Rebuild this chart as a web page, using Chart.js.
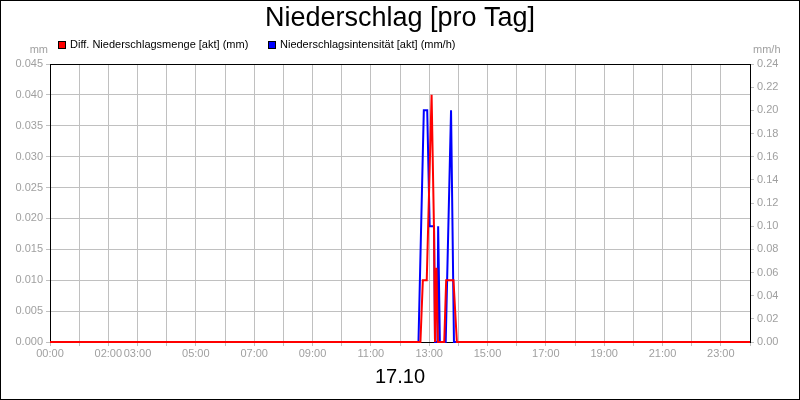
<!DOCTYPE html>
<html>
<head>
<meta charset="utf-8">
<title>Niederschlag [pro Tag]</title>
<script src="https://cdn.jsdelivr.net/npm/chart.js@4.4.0/dist/chart.umd.min.js"></script>
<style>
    html, body { margin: 0; padding: 0; background: #fff; }
    canvas { display: block; }
</style>
</head>
<body>
<canvas id="rainChart" width="800" height="400"></canvas>
<script>
// Colours used on the chart
const COLORS = {
    amount: '#ff0000',
    intensity: '#0000ff',
    grid: '#c0c0c0',
    tickText: '#a0a0a0',
    frame: '#000000'
};

// Tick labels for each hour (0..24), empty where the original skips one
const hourLabels = [
    '00:00', '', '02:00', '03:00', '', '05:00', '', '07:00', '', '09:00',
    '', '11:00', '', '13:00', '', '15:00', '', '17:00', '', '19:00',
    '', '21:00', '', '23:00', ''
];

// Diff. Niederschlagsmenge [akt] (mm) - minutes after midnight / value
const amountMinutes = [0, 762, 767, 775, 785, 790, 792, 795, 798, 811, 815, 830, 837, 1440];
const amountValues  = [0, 0, 0.01, 0.01, 0.04, 0.018, 0, 0.012, 0, 0, 0.01, 0.01, 0, 0];

// Niederschlagsintensität [akt] (mm/h) - minutes after midnight / value
const intensityMinutes = [0, 758, 769, 776, 781, 790, 792, 797, 798.5, 800, 802, 814, 825, 831, 1440];
const intensityValues  = [0, 0, 0.2, 0.2, 0.1, 0.1, 0, 0, 0.1, 0.1, 0, 0, 0.2, 0, 0];

const legendItems = [
    { text: 'Diff. Niederschlagsmenge [akt] (mm)', color: COLORS.amount },
    { text: 'Niederschlagsintensität [akt] (mm/h)', color: COLORS.intensity }
];

const FONT = "'Liberation Sans', Arial, sans-serif";
Chart.defaults.font.family = FONT;

function toPoints(xs, ys) {
    return xs.map((x, i) => ({ x: x, y: ys[i] }));
}

// Draws the white background, the plot frame top, legend, units and outer border
const decorPlugin = {
    id: 'decor',
    beforeDraw(chart) {
        const ctx = chart.ctx;
        ctx.save();
        ctx.fillStyle = '#fff';
        ctx.fillRect(0, 0, chart.width, chart.height);
        ctx.restore();
    },
    beforeDatasetsDraw(chart) {
        const ctx = chart.ctx;
        const area = chart.chartArea;
        ctx.save();
        ctx.strokeStyle = COLORS.frame;
        ctx.lineWidth = 1;
        ctx.beginPath();
        ctx.moveTo(area.left, area.top + 0.5);
        ctx.lineTo(area.right, area.top + 0.5);
        ctx.stroke();
        ctx.restore();
    },
    afterDraw(chart) {
        const ctx = chart.ctx;
        ctx.save();

        // legend
        ctx.font = '11px ' + FONT;
        ctx.textBaseline = 'alphabetic';
        const legendX = [58, 268];
        legendItems.forEach((item, i) => {
            const x = legendX[i];
            ctx.fillStyle = item.color;
            ctx.fillRect(x, 41, 8, 8);
            ctx.strokeStyle = '#000';
            ctx.lineWidth = 1;
            ctx.strokeRect(x + 0.5, 41.5, 7, 7);
            ctx.fillStyle = '#000';
            ctx.fillText(item.text, x + 12, 48);
        });

        // axis units
        ctx.fillStyle = COLORS.tickText;
        ctx.textAlign = 'right';
        ctx.fillText('mm', 48, 53);
        ctx.textAlign = 'left';
        ctx.fillText('mm/h', 753, 53);

        // outer border
        ctx.strokeStyle = '#000';
        ctx.lineWidth = 1;
        ctx.strokeRect(0.5, 0.5, chart.width - 1, chart.height - 1);
        ctx.restore();
    }
};

function createRainChart(canvasId) {
    const ctx = document.getElementById(canvasId);
    if (!ctx) {
        console.error(`Canvas element ${canvasId} not found`);
        return null;
    }

    return new Chart(ctx, {
        type: 'line',
        data: {
            datasets: [{
                label: legendItems[0].text,
                data: toPoints(amountMinutes, amountValues),
                borderColor: COLORS.amount,
                borderWidth: 2,
                pointRadius: 0,
                tension: 0,
                yAxisID: 'y',
                clip: false
            }, {
                label: legendItems[1].text,
                data: toPoints(intensityMinutes, intensityValues),
                borderColor: COLORS.intensity,
                borderWidth: 2,
                pointRadius: 0,
                tension: 0,
                yAxisID: 'y1',
                clip: false
            }]
        },
        options: {
            responsive: false,
            devicePixelRatio: 1,
            animation: false,
            layout: { padding: 0 },
            plugins: {
                legend: { display: false },
                tooltip: { enabled: false },
                title: {
                    display: true,
                    text: 'Niederschlag [pro Tag]',
                    color: '#000',
                    font: { size: 27, weight: 'normal' },
                    padding: { top: 2, bottom: 29.6 }
                }
            },
            scales: {
                x: {
                    type: 'linear',
                    min: 0,
                    max: 1440,
                    ticks: {
                        stepSize: 60,
                        autoSkip: false,
                        maxRotation: 0,
                        color: COLORS.tickText,
                        font: { size: 11 },
                        padding: 1.5,
                        callback: function(value) {
                            return hourLabels[Math.round(value / 60)] || '';
                        }
                    },
                    grid: { color: COLORS.grid, tickLength: 4 },
                    border: { color: COLORS.frame },
                    title: {
                        display: true,
                        text: '17.10',
                        color: '#000',
                        font: { size: 20 },
                        padding: { top: 0, bottom: 11 }
                    },
                    afterFit: function(scale) { scale.height = 58; }
                },
                y: {
                    position: 'left',
                    min: 0,
                    max: 0.045,
                    ticks: {
                        stepSize: 0.005,
                        color: COLORS.tickText,
                        font: { size: 11 },
                        padding: 3,
                        callback: function(value) { return value.toFixed(3); }
                    },
                    grid: { color: COLORS.grid, tickLength: 4 },
                    border: { color: COLORS.frame },
                    afterFit: function(scale) { scale.width = 50; }
                },
                y1: {
                    position: 'right',
                    min: 0,
                    max: 0.24,
                    ticks: {
                        stepSize: 0.02,
                        color: COLORS.tickText,
                        font: { size: 11 },
                        padding: 3,
                        callback: function(value) { return value.toFixed(2); }
                    },
                    grid: { color: COLORS.grid, tickLength: 4, drawOnChartArea: false },
                    border: { color: COLORS.frame },
                    afterFit: function(scale) { scale.width = 50; }
                }
            }
        },
        plugins: [decorPlugin]
    });
}

createRainChart('rainChart');
</script>
</body>
</html>
